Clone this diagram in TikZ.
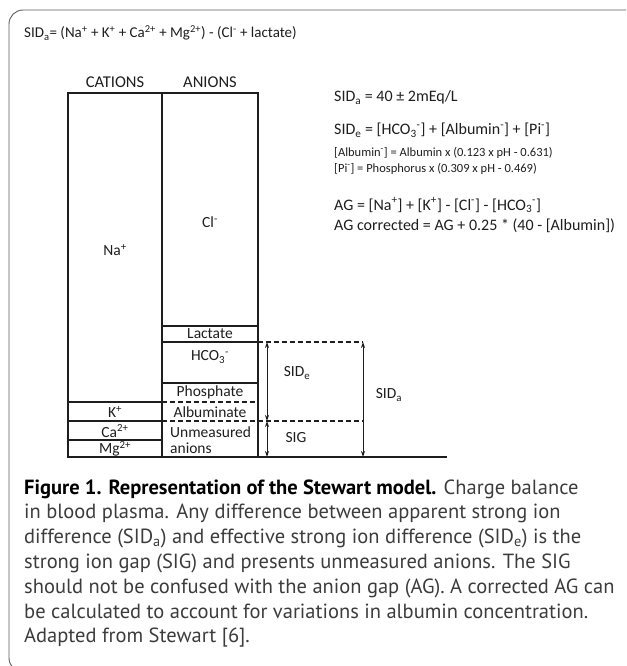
\documentclass[tikz,border=0pt]{standalone}
\usepackage{fontspec}
\setmainfont{Carlito}
\newfontfamily\capfont{PT Sans}
\usetikzlibrary{positioning,arrows.meta,calc}
\definecolor{ink}{HTML}{1E1E1E}
\definecolor{rim}{HTML}{5A5A5A}
\definecolor{captext}{HTML}{3C3C3C}
\newcommand{\chemss}[2]{\textsubscript{#1}\textsuperscript{#2}}

\tikzset{
  lbl/.style={inner sep=0pt, text=ink, font=\fontsize{15.5}{15.5}\selectfont},
  eqn/.style={inner sep=0pt, text=ink, anchor=base west, font=\fontsize{16}{16}\selectfont},
  eqnsmall/.style={eqn, font=\fontsize{12.5}{12.5}\selectfont},
  cell/.style={draw=ink, line width=1.2pt},
  gapline/.style={draw=ink, line width=1.2pt, dash pattern=on 5pt off 3pt},
  span/.style={draw=ink, line width=0.9pt, {Stealth[length=6pt,width=4pt]}-{Stealth[length=6pt,width=4pt]}},
  caption/.style={inner sep=0pt, anchor=base west, text=captext, font=\capfont\fontsize{20.5}{20.5}\selectfont},
}

\begin{document}
\begin{tikzpicture}[x=1pt,y=-1pt]
\useasboundingbox (0,0) rectangle (626,666);
\begin{scope}
\clip (0,0) rectangle (626,666);
\draw[rim, line width=0.9pt, rounded corners=14pt] (9,10) rectangle (660,672);
\end{scope}

% top formula
\node[eqn, font=\fontsize{15}{15}\selectfont] (sidaform) at (24,38) {SID\textsubscript{a}= (Na\textsuperscript{+} + K\textsuperscript{+} + Ca\textsuperscript{2+} + Mg\textsuperscript{2+}) - (Cl\textsuperscript{-} + lactate)};

% columns
\draw[cell] (68,93) rectangle (258,457);
\draw[cell] (162,93) -- (162,457);
\foreach \yy in {402,421,440}
  \draw[cell] (68,\yy) -- (162,\yy);
\foreach \yy in {326,342,383}
  \draw[cell] (162,\yy) -- (258,\yy);
\draw[gapline] (162,402) -- (258,402);
\draw[gapline] (162,421) -- (363,421);
\draw[gapline] (258,342) -- (363,342);
\draw[cell] (68,457) -- (447,457);

\node[lbl, font=\fontsize{16.5}{16.5}\selectfont] (cations) at (115,82) {CATIONS};
\node[lbl, font=\fontsize{16.5}{16.5}\selectfont] (anions) at (210,82) {ANIONS};

\node[lbl] (na) at (115,250) {Na\textsuperscript{+}};
\node[lbl] (k) at (115,412) {K\textsuperscript{+}};
\node[lbl] (ca) at (115,431) {Ca\textsuperscript{2+}};
\node[lbl] (mg) at (115,449) {Mg\textsuperscript{2+}};

\node[lbl] (cl) at (210,222) {Cl\textsuperscript{-}};
\node[lbl] (lactate) at (210,334) {Lactate};
\node[lbl] (hco) at (210,357) {HCO\chemss{3}{-}};
\node[lbl] (phos) at (210,392) {Phosphate};
\node[lbl] (albu) at (210,412) {Albuminate};
\node[lbl, anchor=west, align=left] (unmeas) at (170,440) {Unmeasured\\anions};

% gaps
\coordinate (sideTop) at (267,342);
\coordinate (sideBot) at (267,421);
\coordinate (sigBot) at (267,457);
\coordinate (sidaTop) at (363,342);
\coordinate (sidaBot) at (363,457);
\draw[span] (sideTop) -- (sideBot);
\draw[span] (sideBot) -- (sigBot);
\draw[span] (sidaTop) -- (sidaBot);
\node[lbl] (side) at (297,373) {SID\textsubscript{e}};
\node[lbl] (sig) at (296,438) {SIG};
\node[lbl] (sida) at (389,395) {SID\textsubscript{a}};

% equations
\node[eqn] (sidanorm) at (334,102) {SID\textsubscript{a} = 40 ± 2mEq/L};
\node[eqn] (sideform) at (334,135) {SID\textsubscript{e} = [HCO\chemss{3}{-}] + [Albumin\textsuperscript{-}] + [Pi\textsuperscript{-}]};
\node[eqnsmall] (albform) at (334,156) {[Albumin\textsuperscript{-}] = Albumin x (0.123 x pH - 0.631)};
\node[eqnsmall] (piform) at (334,172) {[Pi\textsuperscript{-}] = Phosphorus x (0.309 x pH - 0.469)};
\node[eqn] (agform) at (334,210) {AG = [Na\textsuperscript{+}] + [K\textsuperscript{+}] - [Cl\textsuperscript{-}] - [HCO\chemss{3}{-}]};
\node[eqn] (agcorr) at (334,230) {AG corrected = AG + 0.25 * (40 - [Albumin])};

% caption
\foreach \txt [count=\i from 0] in {
  {{\color{black}\bfseries Figure 1. Representation of the Stewart model.} Charge balance},
  {in blood plasma. Any difference between apparent strong ion},
  {difference (SID\textsubscript{a}) and effective strong ion difference (SID\textsubscript{e}) is the},
  {strong ion gap (SIG) and presents unmeasured anions. The SIG},
  {should not be confused with the anion gap (AG). A corrected AG can},
  {be calculated to account for variations in albumin concentration.},
  {Adapted from Stewart [6].}}
  \node[caption] (cap\i) at (24,{494+\i*24.8}) {\txt};
\end{tikzpicture}
\end{document}
